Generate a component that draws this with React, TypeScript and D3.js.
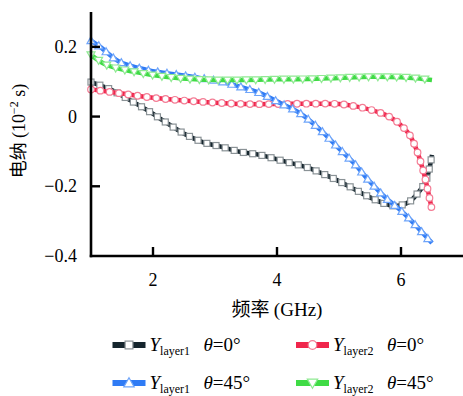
import React, { useEffect, useRef } from "react";
import * as d3 from "d3";

const xTicks = [2, 4, 6];
const yTicks = [-0.4, -0.2, 0, 0.2];
const yTickLabels = ["\u22120.4", "\u22120.2", "0", "0.2"];

const blackX = [1, 1.3, 1.6, 1.9, 2.22, 2.48, 2.8, 3.11, 3.4, 3.72, 4.15, 4.47, 4.79, 5.12, 5.49, 5.81, 5.95, 6.13, 6.26, 6.4, 6.5];
const blackY = [0.099, 0.079, 0.05, 0.019, -0.018, -0.047, -0.073, -0.087, -0.101, -0.11, -0.13, -0.145, -0.168, -0.196, -0.231, -0.254, -0.256, -0.245, -0.222, -0.185, -0.11];

const redX = [1, 1.5, 2, 2.5, 3, 3.5, 4, 4.5, 5, 5.25, 5.5, 5.75, 5.9, 6.0, 6.13, 6.25, 6.35, 6.4, 6.5];
const redY = [0.078, 0.066, 0.054, 0.046, 0.04, 0.036, 0.036, 0.037, 0.036, 0.03, 0.02, 0.005, -0.01, -0.025, -0.05, -0.095, -0.15, -0.185, -0.268];

const blueX = [1, 1.15, 1.45, 1.9, 2.2, 2.75, 3.11, 3.4, 3.72, 4.05, 4.37, 4.7, 4.97, 5.24, 5.5, 5.76, 6.0, 6.2, 6.5];
const blueY = [0.218, 0.2, 0.158, 0.134, 0.125, 0.111, 0.1, 0.086, 0.068, 0.039, 0.01, -0.038, -0.086, -0.133, -0.187, -0.234, -0.27, -0.305, -0.363];

const greenX = [1, 1.25, 1.68, 2.2, 2.75, 3.5, 4, 4.5, 5, 5.5, 6, 6.25, 6.5];
const greenY = [0.177, 0.148, 0.129, 0.114, 0.106, 0.105, 0.107, 0.108, 0.111, 0.114, 0.113, 0.11, 0.105];

const seriesNames = ["layer1", "layer2", "layer1", "layer2"];
const seriesAngles = ["0\u00b0", "0\u00b0", "45\u00b0", "45\u00b0"];

type Series = { xs: number[]; ys: number[]; color: string; mstroke: string; marker: string; legendCol: number; legendRow: number; name: string; angle: string };

const series: Series[] = [
  { xs: blackX, ys: blackY, color: "#15252d", mstroke: "#8a9296", marker: "square", legendCol: 0, legendRow: 0, name: seriesNames[0], angle: seriesAngles[0] },
  { xs: redX, ys: redY, color: "#f0264c", mstroke: "#f47d95", marker: "circle", legendCol: 1, legendRow: 0, name: seriesNames[1], angle: seriesAngles[1] },
  { xs: blueX, ys: blueY, color: "#2f7bf5", mstroke: "#6fa5fa", marker: "up", legendCol: 0, legendRow: 1, name: seriesNames[2], angle: seriesAngles[2] },
  { xs: greenX, ys: greenY, color: "#3fdb45", mstroke: "#8fea92", marker: "down", legendCol: 1, legendRow: 1, name: seriesNames[3], angle: seriesAngles[3] },
];

const W = 463, H = 396;
const L = 91, R = 463, T = 12, B = 256;
const serif = "'Liberation Serif', 'DejaVu Serif', serif";
const cjk = "'Noto Sans CJK SC', sans-serif";

function drawMarker(g: any, type: string, x: number, y: number, stroke: string, k = 1) {
  if (type === "square") {
    const h = 3 * k;
    g.append("rect").attr("x", x - h).attr("y", y - h).attr("width", 2 * h).attr("height", 2 * h)
      .attr("fill", "#fff").attr("stroke", stroke).attr("stroke-width", 1.2);
  } else if (type === "circle") {
    g.append("circle").attr("cx", x).attr("cy", y).attr("r", 3.3 * k)
      .attr("fill", "#fff").attr("stroke", stroke).attr("stroke-width", 1.2);
  } else if (type === "up") {
    const s = 4 * k;
    g.append("path").attr("d", `M${x},${y - s}L${x + s},${y + s * 0.75}L${x - s},${y + s * 0.75}Z`)
      .attr("fill", "#fff").attr("stroke", stroke).attr("stroke-width", 1.2);
  } else {
    const s = 4 * k;
    g.append("path").attr("d", `M${x},${y + s}L${x + s},${y - s * 0.75}L${x - s},${y - s * 0.75}Z`)
      .attr("fill", "#fff").attr("stroke", stroke).attr("stroke-width", 1.2);
  }
}

export default function App() {
  const ref = useRef<SVGSVGElement>(null);
  useEffect(() => {
    const svg = d3.select(ref.current);
    svg.selectAll("*").remove();
    const x = d3.scaleLinear().domain([1, 7]).range([L, R]);
    const y = d3.scaleLinear().domain([-0.4, 0.3]).range([B, T]);

    const plot = svg.append("g");
    const ax = svg.append("g");
    ax.append("line").attr("x1", L).attr("x2", L).attr("y1", T).attr("y2", B + 1.25).attr("stroke", "#000").attr("stroke-width", 2.6);
    ax.append("line").attr("x1", L - 1.25).attr("x2", R).attr("y1", B).attr("y2", B).attr("stroke", "#000").attr("stroke-width", 2.6);
    xTicks.forEach((t) => {
      ax.append("line").attr("x1", x(t)).attr("x2", x(t)).attr("y1", B).attr("y2", B - 9).attr("stroke", "#000").attr("stroke-width", 2.4);
      ax.append("text").attr("x", x(t)).attr("y", 286).attr("text-anchor", "middle").attr("font-family", serif).attr("font-size", 18).text(String(t));
    });
    yTicks.forEach((t, i) => {
      if (t > -0.4) ax.append("line").attr("x1", L).attr("x2", L + 9).attr("y1", y(t)).attr("y2", y(t)).attr("stroke", "#000").attr("stroke-width", 2.4);
      ax.append("text").attr("x", 77).attr("y", y(t) + 6).attr("text-anchor", "end").attr("font-family", serif).attr("font-size", 18).text(yTickLabels[i]);
    });
    const xt = ax.append("text").attr("x", 277).attr("y", 316).attr("text-anchor", "middle").attr("font-size", 19);
    xt.append("tspan").attr("font-family", cjk).text("频率 ");
    xt.append("tspan").attr("font-family", serif).attr("font-size", 19).text("(GHz)");
    const yt = ax.append("text").attr("transform", `translate(25,131) rotate(-90)`).attr("text-anchor", "middle").attr("font-size", 18);
    yt.append("tspan").attr("font-family", cjk).text("电纳 ");
    yt.append("tspan").attr("font-family", serif).attr("font-size", 18).text("(10");
    yt.append("tspan").attr("font-family", serif).attr("font-size", 12).attr("dy", -7).text("\u22122");
    yt.append("tspan").attr("font-family", serif).attr("font-size", 18).attr("dy", 7).text(" s)");

    series.forEach((s) => {
      const pts: [number, number][] = s.xs.map((v, i) => [v, s.ys[i]]);
      const line = d3.line<[number, number]>().x((d) => x(d[0])).y((d) => y(d[1])).curve(d3.curveCatmullRom.alpha(0.5));
      const path = plot.append("path").attr("d", line(pts)).attr("fill", "none").attr("stroke", s.color).attr("stroke-width", 4.5);
      const node = path.node() as SVGPathElement;
      const len = node.getTotalLength();
      const mg = plot.append("g");
      const step = 9.4;
      for (let l = 0; l <= len; l += step) {
        const p = node.getPointAtLength(l);
        drawMarker(mg, s.marker, p.x, p.y, s.mstroke);
      }
    });

    const lg = svg.append("g");
    series.forEach((s) => {
      const x0 = s.legendCol === 0 ? 112.5 : 296;
      const yy = s.legendRow === 0 ? 345 : 383;
      lg.append("line").attr("x1", x0).attr("x2", x0 + 33).attr("y1", yy).attr("y2", yy).attr("stroke", s.color).attr("stroke-width", 6);
      drawMarker(lg, s.marker, x0 + 16.5, yy, s.mstroke, 1.3);
      const tx = x0 + 37;
      const t = lg.append("text").attr("x", tx).attr("y", yy + 6).attr("font-family", serif).attr("font-size", 19);
      t.append("tspan").attr("font-style", "italic").text("Y");
      t.append("tspan").attr("font-size", 12).attr("dy", 4).attr("dx", 0).text(s.name);
      t.append("tspan").attr("x", tx + 54).attr("dy", -4).attr("font-style", "italic").text("\u03b8");
      t.append("tspan").text("=" + s.angle);
    });
  }, []);
  return <svg ref={ref} width={W} height={H} style={{ position: "absolute", left: 0, top: 0, background: "#fff" }} />;
}
